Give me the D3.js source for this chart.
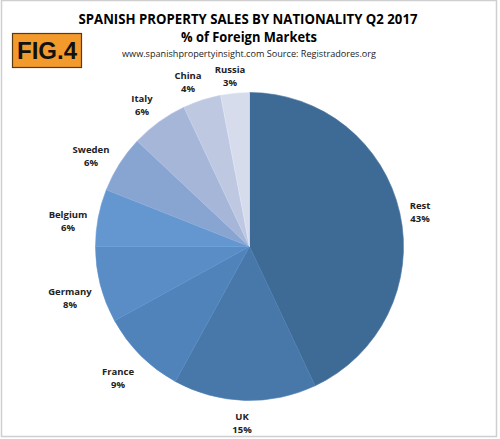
<!DOCTYPE html>
<html><head><meta charset="utf-8">
<script src="https://cdn.jsdelivr.net/npm/d3@7"></script>
<style>
html,body{margin:0;padding:0;background:#fff;}
svg{display:block;}
</style></head>
<body>
<svg id="chart" width="500" height="439"></svg>
<script>
const categories = ["Rest","UK","France","Germany","Belgium","Sweden","Italy","China","Russia"];
const values = [43,15,9,8,6,6,6,4,3];
const colors = ["#3e6a96","#4878aa","#5183bb","#5a8cc5","#6497d0","#88a4d0","#a6b6d8","#bec8e1","#d6dcec"];
const labelPos = [[420,206],[242,417],[118,372],[70,292],[68,215],[91,150],[142,99],[188,76],[230,70]];

const svg = d3.select("#chart");
const font = "Open Sans, Calibri, sans-serif";

svg.append("rect").attr("x",1.5).attr("y",0.5).attr("width",495).attr("height",436)
  .attr("fill","#fff").attr("stroke","#cfcfcf").attr("stroke-width",1.5);

// Titles
svg.append("text").attr("x",248).attr("y",23.5).attr("text-anchor","middle")
  .attr("font-family",font).attr("font-weight","bold").attr("font-size",13.5)
  .attr("textLength",339).attr("lengthAdjust","spacingAndGlyphs")
  .text("SPANISH PROPERTY SALES BY NATIONALITY Q2 2017");
svg.append("text").attr("x",249).attr("y",41.5).attr("text-anchor","middle")
  .attr("font-family",font).attr("font-weight","bold").attr("font-size",13.5)
  .attr("textLength",136).attr("lengthAdjust","spacingAndGlyphs")
  .text("% of Foreign Markets");
svg.append("text").attr("x",249).attr("y",56.5).attr("text-anchor","middle")
  .attr("font-family",font).attr("font-size",9.5)
  .attr("textLength",254).attr("lengthAdjust","spacingAndGlyphs")
  .attr("fill","#222")
  .text("www.spanishpropertyinsight.com Source: Registradores.org");

// FIG.4 badge
svg.append("rect").attr("x",12.5).attr("y",33.5).attr("width",69).attr("height",34)
  .attr("fill","#f39a2c").attr("stroke","#5a3a10").attr("stroke-width",1.2);
svg.append("text").attr("x",47).attr("y",59).attr("text-anchor","middle")
  .attr("font-family","Liberation Sans, Arial, sans-serif").attr("font-weight","bold").attr("font-size",24)
  .attr("textLength",60).attr("lengthAdjust","spacingAndGlyphs")
  .attr("fill","#111").text("FIG.4");

// Pie
const cx = 249.5, cy = 246.5, r = 154;
const data = categories.map((c,i)=>({name:c,value:values[i],color:colors[i],lp:labelPos[i]}));
const pie = d3.pie().value(d=>d.value).sort(null);
const arc = d3.arc().innerRadius(0).outerRadius(r);
const g = svg.append("g").attr("transform",`translate(${cx},${cy})`);
g.selectAll("path").data(pie(data)).join("path")
  .attr("d",arc).attr("fill",d=>d.data.color)
  .attr("stroke",d=>d3.color(d.data.color).brighter(0.15)).attr("stroke-width",0.6);

// Labels
const lg = svg.append("g").attr("font-family",font).attr("font-weight","bold")
  .attr("font-size",9.5).attr("fill","#222").attr("text-anchor","middle");
data.forEach(d=>{
  lg.append("text").attr("x",d.lp[0]).attr("y",d.lp[1]+3.3).text(d.name);
  lg.append("text").attr("x",d.lp[0]).attr("y",d.lp[1]+15.8).text(d.value+"%");
});
</script>
</body></html>
